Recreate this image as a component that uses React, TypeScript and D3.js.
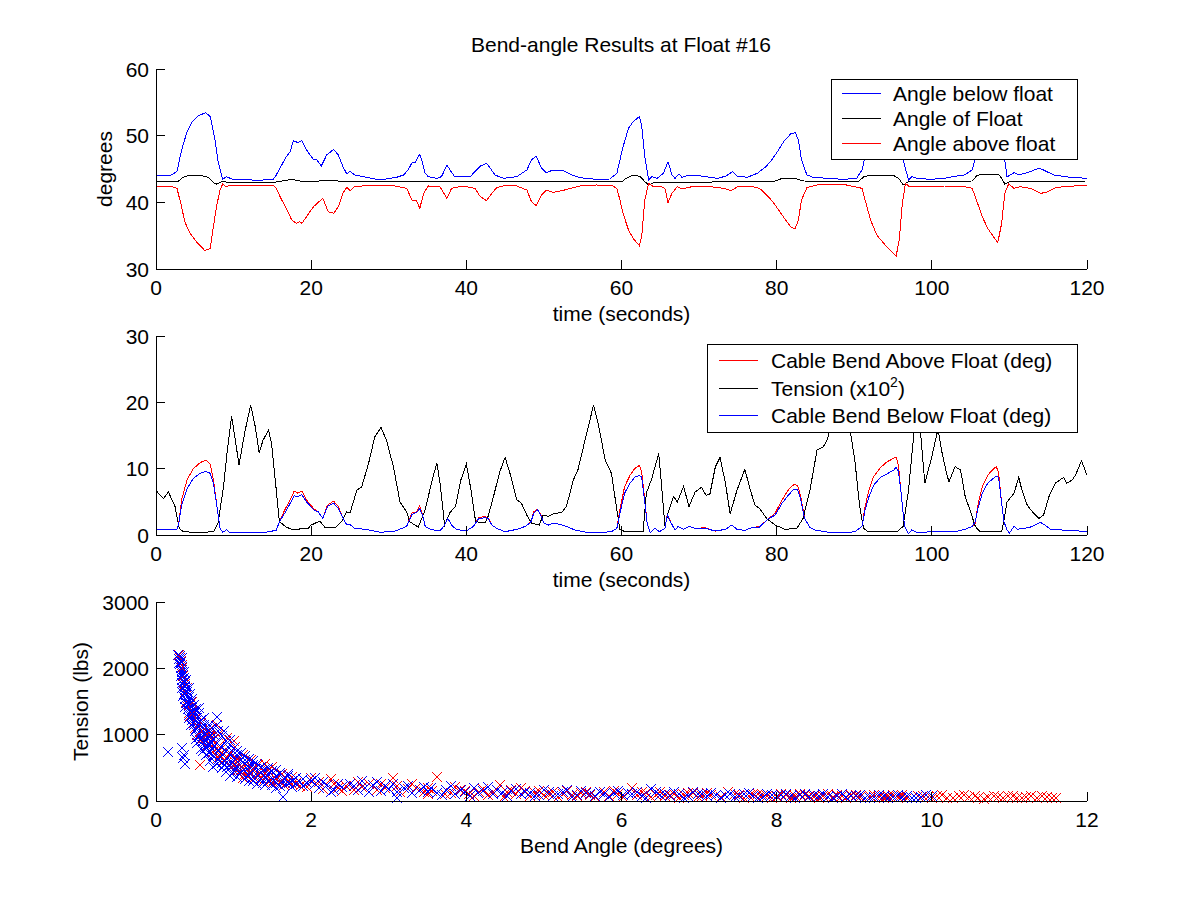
import * as d3 from "d3";

type Pt = [number, number];

// ---- top panel: angles (degrees) vs time (s)
const angleBelow: Pt[] = [
  [0, 44.1], [1.8, 44.0], [2.7, 44.6], [3.3, 47.85], [4.0, 50.6], [4.6, 51.95], [5.4, 52.95], [6.4, 53.45],
  [7.0, 52.85], [7.6, 49.35], [8.0, 46.1], [8.6, 43.45], [9.1, 43.85], [9.75, 43.5], [12.1, 43.5], [12.5, 43.25],
  [15.1, 43.45], [15.5, 44.1], [16.2, 45.6], [16.8, 46.85], [17.3, 47.6], [17.7, 49.25], [18.3, 48.95], [18.8, 49.25],
  [19.4, 47.85], [20.3, 46.45], [20.7, 46.4], [21.3, 45.45], [22.0, 47.1], [22.9, 47.95], [23.5, 47.1], [24.1, 45.35],
  [24.6, 44.25], [25.0, 44.7], [25.6, 44.1], [27.2, 43.75], [28.9, 43.35], [31.0, 43.75], [31.9, 44.1], [32.5, 44.85],
  [33.0, 45.95], [33.4, 46.0], [34.0, 47.2], [34.3, 46.1], [34.7, 44.35], [35.1, 43.85], [36.2, 43.6], [36.8, 43.85],
  [37.5, 45.6], [37.9, 44.85], [38.5, 43.85], [40.5, 43.85], [41.1, 44.6], [41.8, 45.45], [42.6, 45.85], [43.1, 45.1],
  [43.7, 44.1], [44.8, 43.6], [46.5, 43.85], [47.8, 44.85], [48.4, 46.35], [49.0, 46.95], [49.7, 45.1], [50.3, 44.45],
  [51.2, 44.85], [52.5, 44.75], [53.6, 44.1], [54.6, 43.7], [56.8, 43.45], [58.5, 43.5], [59.4, 44.35], [59.8, 46.35],
  [60.2, 48.35], [60.9, 51.1], [61.5, 52.1], [62.3, 52.85], [62.6, 51.6], [63.0, 46.85], [63.5, 43.35], [63.9, 43.85],
  [64.6, 43.6], [65.4, 44.35], [66.0, 46.1], [66.5, 44.1], [66.9, 43.6], [67.4, 44.25], [67.8, 43.75], [68.7, 44.1],
  [70.2, 43.95], [71.5, 43.75], [72.4, 43.6], [73.5, 43.95], [74.3, 44.6], [74.9, 43.95], [76.2, 43.75], [77.5, 44.35],
  [78.6, 45.35], [79.2, 46.1], [80.1, 47.6], [80.9, 49.1], [81.8, 50.25], [82.4, 50.45], [82.8, 49.35], [83.2, 46.35],
  [83.9, 44.1], [84.7, 43.75], [86.5, 43.6], [88.6, 43.45], [90.3, 43.6], [91.0, 44.85], [91.3, 46.35], [91.7, 48.35],
  [92.5, 51.6], [93.4, 52.8], [94.2, 53.3], [95.1, 53.9], [95.5, 54.2], [95.8, 53.2], [96.3, 46.35], [97.0, 43.35],
  [97.4, 43.85], [98.1, 43.6], [99.8, 43.45], [101.6, 43.6], [102.7, 43.85], [104.2, 44.1], [105.2, 44.85], [105.6, 46.5],
  [105.9, 48.05], [106.5, 50.55], [107.2, 52.05], [107.8, 52.65], [108.3, 53.15], [108.6, 52.9], [109.0, 48.5],
  [109.4, 46.3], [109.7, 43.8], [110.1, 44.1], [110.6, 44.45], [111.2, 44.1], [112.3, 44.45], [113.8, 45.1],
  [114.4, 44.85], [115.7, 44.1], [117.9, 43.75], [120, 43.6],
];

const angleFloat: Pt[] = [
  [0, 43.2], [2.9, 43.2], [3.5, 43.75], [4.4, 44.1], [5.9, 44.0], [6.75, 43.75], [7.4, 42.95], [7.8, 42.75],
  [8.5, 43.1], [9.5, 43.0], [15, 42.95], [17.5, 43.45], [18.5, 43.2], [20, 43.1], [22.6, 43.35], [24, 43.1],
  [60, 43.05], [60.6, 43.6], [61.5, 44.1], [62.4, 43.9], [63.0, 43.1], [63.5, 42.6], [64.2, 43.0], [79.5, 43.1],
  [80.5, 43.5], [82.3, 43.6], [83.5, 43.2], [90.5, 43.1], [91.3, 43.9], [92.5, 44.1], [95, 44.1], [95.8, 43.5],
  [96.3, 42.6], [97, 43.1], [105.2, 43.2], [105.8, 44.0], [106.5, 44.25], [108.6, 44.25], [109.1, 43.4],
  [109.4, 42.75], [110, 43.1], [120, 43.2],
];

const angleAbove: Pt[] = [
  [0, 42.35], [1.8, 42.45], [2.7, 42.1], [3.3, 39.35], [3.7, 37.1], [4.4, 35.35], [5.2, 34.1], [6.3, 32.75],
  [7.0, 33.1], [7.4, 36.35], [7.8, 39.35], [8.25, 41.85], [8.6, 42.75], [9.0, 42.3], [9.5, 42.6], [15.1, 42.6],
  [15.5, 42.1], [16.2, 40.35], [16.8, 39.1], [17.5, 37.35], [18.1, 36.85], [18.5, 37.1], [18.8, 36.85], [19.4, 37.85],
  [20.3, 39.35], [21.5, 40.6], [22.2, 38.6], [22.9, 38.35], [23.5, 39.35], [24.1, 41.35], [24.6, 42.3], [25.0, 41.75],
  [25.6, 42.35], [27.1, 42.5], [30.2, 42.6], [32.3, 42.1], [33.0, 40.35], [33.6, 40.2], [34.0, 39.1], [34.5, 41.35],
  [35.1, 42.45], [36.6, 42.35], [37.5, 40.6], [38.1, 42.1], [39.6, 42.45], [41.1, 42.1], [41.8, 40.85], [42.6, 40.25],
  [43.3, 41.35], [43.9, 42.2], [45.2, 42.6], [46.5, 42.45], [47.8, 41.85], [48.4, 40.1], [49.0, 39.5], [49.7, 41.1],
  [50.3, 41.85], [51.2, 41.5], [52.5, 41.8], [54.6, 42.45], [56.8, 42.6], [58.9, 42.45], [59.4, 42.1], [59.8, 40.35],
  [60.2, 38.35], [60.9, 35.85], [61.5, 34.6], [62.3, 33.5], [62.6, 34.85], [63.0, 40.35], [63.5, 42.85], [64.1, 42.35],
  [65.0, 42.45], [65.6, 42.1], [66.0, 39.95], [66.5, 41.35], [67.2, 42.35], [67.8, 42.0], [68.9, 42.3], [71.5, 42.35],
  [73.2, 42.1], [74.1, 41.75], [74.9, 42.3], [76.6, 42.45], [77.8, 42.1], [78.7, 41.1], [79.5, 40.1], [80.4, 38.6],
  [81.3, 37.1], [81.9, 36.2], [82.4, 36.1], [82.8, 37.35], [83.2, 40.35], [83.9, 42.2], [85.2, 42.6], [88.6, 42.7],
  [91.0, 42.1], [91.4, 40.35], [92.1, 37.35], [92.9, 35.1], [93.8, 33.85], [94.6, 32.85], [95.4, 31.95], [95.8, 34.35],
  [96.2, 39.85], [96.6, 42.85], [97.1, 42.35], [98.4, 42.45], [101.6, 42.45], [104.2, 42.35], [105.2, 42.1],
  [105.9, 39.85], [106.5, 37.85], [107.2, 36.1], [107.8, 35.1], [108.5, 33.95], [109.0, 36.85], [109.4, 41.35],
  [109.9, 42.75], [110.6, 42.1], [111.4, 42.35], [112.7, 42.1], [114.0, 41.35], [114.8, 41.5], [116.1, 42.25],
  [120, 42.6],
];

// ---- middle panel: tension (x100 lbs) and cable bends (deg) vs time (s)
const tension: Pt[] = [
  [0, 6.7], [0.95, 5.5], [1.6, 6.5], [2.45, 4.3], [3.0, 1.0], [3.5, 0.5], [5, 0.4], [6.5, 0.4], [7.5, 0.6], [8.0, 1.8],
  [8.7, 7.3], [9.2, 12.8], [9.75, 17.9], [10.7, 10.6], [11.5, 15.8], [12.2, 19.6], [12.8, 16.3], [13.3, 12.4],
  [13.8, 14.3], [14.5, 15.8], [14.9, 13.8], [15.5, 6.8], [15.9, 2.0], [16.8, 1.2], [17.7, 0.75], [19, 1.0], [19.6, 1.0],
  [20, 1.5], [21.1, 2.1], [21.8, 1.1], [23.1, 1.1], [23.9, 2.0], [24.6, 3.5], [25, 3.3], [25.9, 6.8], [26.5, 7.2],
  [27.4, 10.8], [28.2, 14.8], [29, 16.2], [29.7, 14.3], [30.6, 10.3], [31.45, 5.0], [32.3, 3.5], [32.7, 2.0],
  [33.8, 1.2], [34.7, 3.8], [35.5, 7.8], [36.2, 10.9], [36.6, 7.9], [37.2, 1.5], [37.9, 3.4], [38.6, 4.3], [39.3, 8.3],
  [40, 10.7], [40.6, 6.8], [41.2, 2.0], [42.4, 1.8], [42.8, 2.8], [43.5, 5.8], [44.3, 9.5], [45, 11.7], [45.75, 8.8],
  [46.5, 5.3], [47.1, 4.8], [47.8, 3.0], [48.4, 1.8], [49.4, 1.5], [49.9, 3.0], [50.6, 2.8], [51.2, 3.2], [52.3, 3.4],
  [52.9, 4.3], [53.8, 8.3], [54.4, 9.9], [55.3, 14.3], [56.4, 19.6], [57, 16.8], [57.9, 11.3], [58.7, 9.3], [59.4, 3.8],
  [59.8, 0.8], [60.5, 0.5], [62.8, 0.6], [63.2, 6.3], [63.9, 8.5], [64.8, 12.3], [65.2, 7.0], [65.6, 1.3], [66.0, 3.3],
  [66.7, 5.8], [67.2, 5.0], [68.0, 7.3], [68.7, 4.3], [69.5, 6.5], [70.3, 7.2], [70.9, 6.0], [71.4, 6.2], [72.1, 10.3],
  [72.7, 11.7], [73.4, 7.8], [74, 3.2], [74.9, 6.8], [75.9, 9.9], [76.6, 6.8], [77.2, 4.5], [77.8, 4.0], [78.7, 2.5],
  [79.8, 1.5], [81.1, 0.85], [82.6, 1.0], [83.4, 2.5], [84.3, 6.8], [85.2, 12.8], [86.0, 13.3], [86.5, 14.3],
  [86.9, 16.1], [87.6, 20.5], [88.3, 22.0], [89.0, 19.5], [89.5, 15.6], [90.1, 11.0], [90.7, 4.3], [91.2, 1.0],
  [91.8, 0.5], [95.5, 0.5], [96.3, 1.3], [97.0, 6.8], [97.4, 11.8], [97.8, 16.5], [98.1, 19.0], [98.5, 16.0],
  [99.1, 7.8], [100, 11.8], [100.8, 16.0], [101.3, 12.5], [101.8, 9.8], [102.2, 8.0], [103, 10.3], [103.7, 9.8],
  [104.3, 5.8], [104.9, 3.8], [105.6, 1.3], [106.2, 0.5], [109, 0.5], [109.3, 2.3], [109.7, 5.0], [110.6, 6.3],
  [111.2, 8.7], [111.6, 6.8], [112.3, 4.5], [113.1, 3.3], [113.8, 2.5], [114.4, 3.0], [115.1, 5.8], [115.9, 7.8],
  [117, 8.7], [117.4, 7.8], [118.1, 8.3], [118.5, 9.0], [119.3, 11.2], [120, 9.0],
];

const bendAbove: Pt[] = [
  [0, 0.85], [2.7, 0.9], [2.9, 1.5], [3.3, 5.3], [4.0, 8.3], [4.8, 10.0], [5.7, 10.9], [6.4, 11.3], [7.0, 10.7],
  [7.4, 8.3], [7.8, 4.8], [8.25, 1.0], [8.6, 0.4], [9.1, 0.8], [9.5, 0.4], [10.5, 0.35], [12.2, 0.3], [14, 0.4],
  [15.5, 0.7], [15.9, 2.0], [16.6, 3.8], [17.3, 5.3], [17.8, 6.6], [18.3, 6.3], [18.8, 6.6], [19.4, 5.3], [20.3, 4.0],
  [20.9, 3.5], [21.5, 2.5], [22.1, 4.5], [22.9, 5.1], [23.5, 4.3], [24.0, 2.8], [24.6, 1.5], [25.0, 1.6], [25.6, 1.0],
  [27.1, 0.85], [28.9, 0.4], [30.8, 0.6], [31.7, 1.0], [32.3, 1.3], [33.0, 3.3], [33.6, 3.5], [34.0, 4.4], [34.4, 2.8],
  [34.7, 1.3], [35.4, 0.85], [36.6, 0.6], [37.2, 1.5], [37.6, 2.5], [38.1, 1.5], [38.7, 0.85], [40.0, 0.6], [40.9, 1.3],
  [41.6, 2.6], [42.4, 2.8], [42.8, 2.6], [43.3, 1.5], [43.9, 1.0], [45.0, 0.5], [46.5, 0.85], [47.6, 1.3], [48.3, 2.0],
  [48.7, 3.5], [49.2, 3.9], [49.6, 3.0], [50.0, 1.8], [50.6, 1.5], [51.2, 1.8], [52.1, 1.6], [52.9, 1.3], [54.0, 0.75],
  [55.3, 0.45], [56.4, 0.3], [58.7, 0.5], [59.4, 1.0], [59.8, 3.8], [60.4, 7.3], [61.1, 9.0], [61.7, 10.0], [62.3, 10.5],
  [62.6, 9.5], [63.0, 5.3], [63.3, 1.8], [63.7, 0.3], [64.3, 1.0], [64.9, 0.5], [65.6, 1.0], [65.9, 3.1], [66.4, 1.8],
  [66.9, 0.75], [67.3, 1.3], [68.0, 0.85], [68.7, 1.3], [69.5, 1.0], [70.8, 1.1], [72.1, 0.6], [73.4, 0.85],
  [74.2, 1.5], [74.9, 0.85], [75.9, 0.7], [76.8, 1.1], [77.8, 1.3], [78.5, 2.0], [79.0, 2.5], [79.8, 3.3], [80.7, 5.3],
  [81.5, 6.8], [82.2, 7.6], [82.7, 7.5], [83.1, 5.8], [83.6, 2.5], [84.3, 1.1], [84.9, 0.75], [86.5, 0.45], [88.3, 0.3],
  [90.1, 0.5], [91.0, 1.3], [91.4, 4.3], [91.9, 6.8], [92.5, 8.8], [93.4, 10.2], [94.2, 11.0], [95.1, 11.6],
  [95.4, 11.7], [95.7, 10.5], [96.0, 6.8], [96.3, 3.3], [96.5, 1.3], [97.0, 0.2], [97.4, 0.75], [98.1, 0.35],
  [100.0, 0.5], [101.3, 0.6], [103.0, 0.5], [104.3, 0.85], [105.2, 1.3], [105.6, 1.8], [105.9, 4.3], [106.5, 7.3],
  [107.2, 9.0], [107.8, 9.8], [108.3, 10.3], [108.6, 9.5], [109.0, 4.8], [109.3, 2.0], [109.7, 0.75], [110.0, 0.3],
  [110.6, 1.3], [111.0, 0.85], [111.7, 1.0], [112.5, 1.1], [113.3, 1.5], [114.0, 1.9], [114.6, 1.5], [115.3, 0.85],
  [116.8, 0.75], [119.0, 0.6], [120.0, 0.6],
];

const bendBelow: Pt[] = [
  [0, 0.85], [2.7, 0.9], [2.9, 1.5], [3.3, 4.5], [4.0, 7.0], [4.8, 8.5], [5.7, 9.3], [6.4, 9.6], [7.0, 9.3],
  [7.4, 7.8], [7.8, 4.8], [8.25, 1.0], [8.6, 0.4], [9.1, 0.8], [9.5, 0.4], [10.5, 0.35], [12.2, 0.3], [14, 0.4],
  [15.5, 0.7], [15.9, 2.0], [16.6, 3.3], [17.3, 4.8], [17.8, 5.9], [18.3, 5.8], [18.8, 6.1], [19.4, 5.0], [20.3, 3.8],
  [20.9, 3.5], [21.5, 2.5], [22.1, 4.3], [22.9, 4.8], [23.5, 4.0], [24.0, 2.8], [24.6, 1.5], [25.0, 1.6], [25.6, 1.0],
  [27.1, 0.85], [28.9, 0.4], [30.8, 0.6], [31.7, 1.0], [32.3, 1.3], [33.0, 3.1], [33.6, 3.4], [34.0, 4.0], [34.4, 2.8],
  [34.7, 1.3], [35.4, 0.85], [36.6, 0.6], [37.2, 1.5], [37.6, 2.5], [38.1, 1.5], [38.7, 0.85], [40.0, 0.6], [40.9, 1.3],
  [41.6, 2.5], [42.4, 2.6], [42.8, 2.5], [43.3, 1.5], [43.9, 1.0], [45.0, 0.5], [46.5, 0.85], [47.6, 1.3], [48.3, 1.9],
  [48.7, 3.3], [49.2, 3.8], [49.6, 3.0], [50.0, 1.8], [50.6, 1.5], [51.2, 1.8], [52.1, 1.6], [52.9, 1.3], [54.0, 0.75],
  [55.3, 0.45], [56.4, 0.3], [58.7, 0.5], [59.4, 1.0], [59.8, 3.3], [60.4, 6.3], [61.1, 7.8], [61.7, 8.7], [62.3, 9.0],
  [62.6, 8.7], [63.0, 5.0], [63.3, 1.8], [63.7, 0.3], [64.3, 1.0], [64.9, 0.5], [65.6, 1.0], [65.9, 3.0], [66.4, 1.8],
  [66.9, 0.75], [67.3, 1.3], [68.0, 0.85], [68.7, 1.3], [69.5, 1.0], [70.8, 1.0], [72.1, 0.6], [73.4, 0.85],
  [74.2, 1.5], [74.9, 0.85], [75.9, 0.7], [76.8, 1.1], [77.8, 1.2], [78.5, 2.0], [79.0, 2.5], [79.8, 3.0], [80.7, 4.8],
  [81.5, 6.0], [82.2, 6.9], [82.7, 6.9], [83.1, 5.3], [83.6, 2.5], [84.3, 1.1], [84.9, 0.75], [86.5, 0.45], [88.3, 0.3],
  [90.1, 0.5], [91.0, 1.3], [91.4, 3.8], [91.9, 5.8], [92.5, 7.5], [93.4, 8.7], [94.2, 9.2], [95.1, 9.8],
  [95.4, 10.2], [95.7, 9.6], [96.0, 6.8], [96.3, 3.3], [96.5, 1.3], [97.0, 0.2], [97.4, 0.75], [98.1, 0.35],
  [100.0, 0.5], [101.3, 0.6], [103.0, 0.5], [104.3, 0.85], [105.2, 1.3], [105.6, 2.0], [105.9, 3.8], [106.5, 6.3],
  [107.2, 7.8], [107.8, 8.4], [108.3, 8.9], [108.6, 8.7], [109.0, 4.8], [109.3, 2.0], [109.7, 0.75], [110.0, 0.3],
  [110.6, 1.3], [111.0, 0.85], [111.7, 1.0], [112.5, 1.1], [113.3, 1.5], [114.0, 1.9], [114.6, 1.5], [115.3, 0.85],
  [116.8, 0.75], [119.0, 0.6], [120.0, 0.6],
];

// ---- bottom panel: [bend angle deg, tension lbs]
const scatterAbove: Pt[] = [
  // dense knee
  [0.30, 2200], [0.31, 2160], [0.32, 2110], [0.33, 2000], [0.34, 2050], [0.35, 1880], [0.36, 1800], [0.38, 1760],
  [0.37, 1650], [0.40, 1700], [0.41, 1560], [0.39, 1500], [0.46, 1500], [0.44, 1450], [0.47, 1350], [0.42, 1330],
  [0.44, 1280], [0.53, 1300], [0.51, 1250], [0.49, 1180], [0.58, 1180], [0.55, 1150], [0.50, 1100], [0.63, 1080],
  [0.59, 1050], [0.53, 1000], [0.64, 980], [0.70, 960], [0.60, 950], [0.57, 920], [0.70, 900], [0.68, 880],
  [0.76, 870], [0.62, 880], [0.66, 830], [0.78, 800], [0.85, 800], [0.72, 780], [0.73, 740], [0.84, 720],
  [0.95, 720], [0.82, 700], [0.80, 650], [0.92, 660], [1.05, 640], [0.88, 620], [0.90, 580], [1.00, 600],
  [1.15, 560], [1.00, 540], [0.97, 520], [1.08, 540], [1.25, 480], [1.10, 460], [1.06, 470], [1.18, 480],
  [1.15, 410], [1.22, 400], [1.40, 420], [1.30, 420], [1.27, 360], [1.35, 340], [1.49, 517], [1.40, 350],
  [1.55, 370], [1.38, 300], [1.48, 310], [1.55, 330], [1.65, 330], [1.50, 270], [1.60, 280], [1.70, 300],
  [1.65, 240], [1.75, 250], [1.85, 230], [0.57, 543], [0.78, 1150], [1.12, 350], [1.80, 270],
  [0.80, 1000], [0.92, 950], [1.02, 820], [1.12, 700], [1.22, 620], [1.32, 540], [1.45, 470], [1.62, 400],
  [1.75, 360], [0.70, 1080], [1.00, 900], [1.40, 560],
  // middle band
  [1.85, 280], [1.95, 210], [2.00, 340], [2.05, 250], [2.10, 290], [2.15, 180], [2.25, 330], [2.30, 260],
  [2.35, 200], [2.40, 150], [2.45, 230], [2.55, 170], [2.60, 280], [2.65, 210], [2.75, 250], [2.85, 160],
  [2.90, 260], [2.95, 190], [3.05, 351], [3.10, 230], [3.15, 140], [3.25, 180], [3.30, 250], [3.35, 200],
  [3.45, 130], [3.50, 110],
  // tail
  [3.50, 190], [3.56, 150], [3.62, 366], [3.72, 100], [3.80, 125], [3.86, 210], [3.92, 170], [3.98, 150],
  [4.04, 110], [4.10, 70], [4.16, 140], [4.22, 180], [4.28, 95], [4.34, 130], [4.43, 241], [4.48, 60], [4.52, 130],
  [4.58, 160], [4.64, 100], [4.70, 190], [4.76, 150], [4.82, 70], [4.88, 115], [4.94, 150], [5.00, 90],
  [5.06, 110], [5.12, 130], [5.18, 60], [5.24, 105], [5.30, 150], [5.36, 85], [5.42, 80], [5.48, 120], [5.54, 140],
  [5.60, 95], [5.66, 60], [5.72, 140], [5.78, 130], [5.84, 80], [5.90, 150], [5.96, 110], [6.02, 60], [6.13, 191],
  [6.20, 85], [6.26, 130], [6.32, 120], [6.38, 60], [6.44, 95], [6.50, 130], [6.56, 70], [6.62, 90], [6.68, 105],
  [6.74, 50], [6.80, 85], [6.86, 120], [6.92, 115], [6.98, 60], [7.04, 75], [7.10, 120], [7.16, 95], [7.22, 90],
  [7.28, 60], [7.37, 141], [7.46, 110], [7.52, 90], [7.58, 50], [7.64, 70], [7.70, 110], [7.76, 100], [7.82, 90],
  [7.88, 75], [7.94, 40], [8.00, 60], [8.06, 100], [8.12, 85], [8.18, 45], [8.24, 70], [8.30, 110], [8.36, 95],
  [8.42, 80], [8.48, 65], [8.54, 40], [8.60, 80], [8.66, 100], [8.72, 55], [8.78, 90], [8.84, 70], [8.90, 40],
  [8.96, 85], [9.02, 95], [9.08, 60], [9.14, 45], [9.20, 75], [9.26, 90], [9.32, 55], [9.38, 40], [9.44, 70],
  [9.50, 85], [9.56, 60], [9.62, 90], [9.68, 50], [9.74, 40], [9.82, 80], [9.88, 70], [9.95, 55], [10.00, 40],
  [10.07, 70], [10.13, 85], [10.20, 50], [10.27, 40], [10.35, 75], [10.42, 90], [10.48, 60], [10.55, 75],
  [10.60, 45], [10.67, 35], [10.72, 65], [10.80, 80], [10.85, 55], [10.92, 40], [10.98, 70], [11.04, 80],
  [11.10, 50], [11.16, 40], [11.22, 60], [11.28, 75], [11.35, 45], [11.42, 70], [11.48, 55], [11.55, 40],
  [11.60, 50],
];

const scatterBelow: Pt[] = [
  // dense knee
  [0.29, 2200], [0.31, 2190], [0.33, 2150], [0.30, 2140], [0.32, 2100], [0.30, 2080], [0.31, 2060], [0.32, 2010],
  [0.34, 1980], [0.36, 1950], [0.33, 1940], [0.35, 1900], [0.32, 1880], [0.36, 1850], [0.34, 1820], [0.39, 1820],
  [0.37, 1790], [0.33, 1780], [0.35, 1760], [0.38, 1740], [0.37, 1720], [0.34, 1700], [0.42, 1700], [0.37, 1680],
  [0.40, 1650], [0.36, 1620], [0.44, 1620], [0.39, 1600], [0.35, 1580], [0.42, 1570], [0.38, 1540], [0.46, 1540],
  [0.41, 1510], [0.45, 1490], [0.40, 1480], [0.39, 1470], [0.49, 1450], [0.43, 1440], [0.38, 1420], [0.47, 1410],
  [0.41, 1380], [0.52, 1380], [0.45, 1350], [0.50, 1330], [0.56, 1320], [0.43, 1300], [0.46, 1280], [0.48, 1270],
  [0.42, 1250], [0.53, 1250], [0.46, 1220], [0.58, 1220], [0.51, 1200], [0.56, 1180], [0.45, 1150], [0.49, 1150],
  [0.62, 1150], [0.54, 1130], [0.60, 1100], [0.52, 1080], [0.66, 1080], [0.57, 1050], [0.50, 1050], [0.63, 1030],
  [0.55, 1000], [0.70, 1000], [0.61, 980], [0.55, 960], [0.67, 950], [0.52, 940], [0.74, 940], [0.58, 930],
  [0.64, 910], [0.60, 900], [0.71, 890], [0.79, 880], [0.62, 870], [0.53, 870], [0.68, 850], [0.75, 830],
  [0.84, 820], [0.63, 820], [0.66, 800], [0.58, 790], [0.72, 780], [0.80, 760], [0.90, 760], [0.60, 760],
  [0.70, 740], [0.77, 720], [0.68, 720], [0.86, 700], [0.64, 700], [0.95, 700], [0.74, 680], [0.82, 660],
  [1.00, 650], [0.92, 640], [0.72, 640], [0.80, 620], [1.08, 620], [0.88, 600], [0.69, 600], [0.98, 585],
  [0.85, 570], [0.78, 560], [1.15, 560], [0.95, 550], [0.88, 540], [1.05, 530], [0.74, 520], [1.20, 520],
  [0.92, 510], [1.02, 490], [0.85, 490], [1.28, 480], [1.13, 470], [1.00, 455], [0.90, 440], [1.10, 440],
  [1.35, 440], [1.22, 420], [1.08, 405], [0.98, 400], [1.45, 400], [1.18, 390], [1.32, 380], [1.55, 370],
  [1.25, 360], [1.05, 360], [1.42, 345], [1.35, 330], [1.15, 330], [1.65, 330], [1.52, 315], [1.45, 300],
  [1.25, 300], [1.75, 300], [1.62, 290], [1.85, 290], [1.55, 275], [1.38, 270], [1.95, 270], [1.72, 265],
  [1.68, 250], [1.30, 250], [1.50, 240], [1.60, 220], [1.75, 210], [2.05, 260], [0.88, 540], [0.60, 760],
  [0.52, 940],
  [0.75, 1000], [0.85, 980], [0.80, 1050], [0.72, 1100], [0.90, 900], [0.95, 850], [1.00, 800], [1.05, 760],
  [1.10, 720], [1.15, 680], [1.20, 640], [1.25, 600], [1.30, 560], [1.35, 520], [1.40, 480], [1.50, 450],
  [1.60, 420], [1.70, 380], [1.80, 350], [0.95, 920], [1.05, 700], [1.15, 620], [1.25, 540], [1.45, 500],
  [1.55, 460], [1.70, 410], [0.68, 1150], [0.62, 1250], [0.55, 1400], [0.88, 1050],
  // outliers
  [0.16, 743], [0.34, 794], [0.36, 700], [0.35, 650], [0.37, 560], [0.78, 1271], [0.77, 1130], [0.93, 818],
  [1.64, 65], [3.10, 45], [1.20, 300], [1.90, 330], [1.40, 240], [0.95, 380], [1.55, 200],
  // middle band
  [1.80, 260], [1.90, 220], [2.00, 300], [2.05, 350], [2.10, 190], [2.15, 280], [2.20, 240], [2.25, 140],
  [2.30, 170], [2.35, 260], [2.40, 210], [2.50, 260], [2.55, 220], [2.60, 160], [2.65, 300], [2.70, 200],
  [2.75, 130], [2.80, 240], [2.85, 280], [2.90, 150], [2.95, 230], [3.00, 180], [3.05, 260], [3.10, 140],
  [3.20, 200], [3.25, 230], [3.30, 120], [3.40, 170], [3.45, 210],
  // tail
  [3.50, 140], [3.55, 200], [3.62, 120], [3.68, 90], [3.74, 160], [3.80, 230], [3.86, 110], [3.93, 170],
  [3.98, 135], [4.05, 80], [4.10, 190], [4.15, 120], [4.22, 150], [4.28, 210], [4.34, 100], [4.40, 170],
  [4.46, 125], [4.52, 80], [4.58, 145], [4.64, 180], [4.70, 105], [4.76, 140], [4.82, 120], [4.88, 70],
  [4.94, 90], [5.00, 160], [5.06, 135], [5.12, 80], [5.18, 110], [5.24, 140], [5.30, 166], [5.36, 60], [5.42, 95],
  [5.48, 150], [5.54, 120], [5.60, 110], [5.66, 80], [5.72, 140], [5.78, 105], [5.84, 60], [5.90, 125],
  [5.96, 150], [6.02, 90], [6.08, 120], [6.14, 110], [6.20, 140], [6.26, 70], [6.32, 50], [6.38, 180], [6.44, 130],
  [6.50, 95], [6.56, 110], [6.62, 75], [6.68, 130], [6.74, 100], [6.80, 50], [6.86, 80], [6.92, 130], [6.98, 110],
  [7.04, 100], [7.10, 70], [7.16, 120], [7.22, 95], [7.28, 40], [7.34, 85], [7.40, 110], [7.46, 60], [7.52, 70],
  [7.58, 100], [7.64, 120], [7.70, 80], [7.76, 50], [7.82, 65], [7.88, 110], [7.94, 90], [8.00, 80], [8.06, 95],
  [8.12, 110], [8.18, 70], [8.24, 40], [8.30, 90], [8.36, 110], [8.42, 60], [8.48, 90], [8.54, 80], [8.60, 100],
  [8.66, 55], [8.72, 40], [8.78, 75], [8.84, 100], [8.90, 60], [8.96, 80], [9.02, 70], [9.08, 90], [9.14, 50],
  [9.20, 40], [9.26, 65], [9.32, 90], [9.38, 75], [9.44, 40], [9.50, 55], [9.56, 85], [9.62, 65], [9.68, 75],
  [9.74, 50], [9.80, 40], [9.86, 60], [9.92, 85], [10.0, 75],
];

const timeTicks = [0, 20, 40, 60, 80, 100, 120];
const angleTicks = [30, 40, 50, 60];
const midTicks = [0, 10, 20, 30];
const tensionTicks = [0, 1000, 2000, 3000];
const bendTicks = [0, 2, 4, 6, 8, 10, 12];

const FONT = "'Liberation Sans', Arial, Helvetica, sans-serif";
const FS = 21;
const LEFT = 156;
const RIGHT = 1087;
const TICK = 9;

const xTime = d3.scaleLinear().domain([0, 120]).range([LEFT, RIGHT]);
const yAngle = d3.scaleLinear().domain([30, 60]).range([269, 69]);
const yMid = d3.scaleLinear().domain([0, 30]).range([535, 336]);
const xBend = d3.scaleLinear().domain([0, 12]).range([LEFT, RIGHT]);
const yTension = d3.scaleLinear().domain([0, 3000]).range([801, 602]);

type Scale = d3.ScaleLinear<number, number>;

function Frame({ x, y, xTicks, yTicks, xLabel, yLabel, yLabelX }: {
  x: Scale; y: Scale; xTicks: number[]; yTicks: number[]; xLabel: string; yLabel?: string; yLabelX?: number;
}) {
  const [bottom, top] = y.range();
  return (
    <g stroke="#000" fill="none" shapeRendering="crispEdges">
      <line x1={LEFT} x2={LEFT} y1={top} y2={bottom} />
      <line x1={LEFT} x2={RIGHT} y1={bottom} y2={bottom} />
      {xTicks.map((t) => (
        <line key={"xt" + t} x1={x(t)} x2={x(t)} y1={bottom} y2={bottom - TICK} />
      ))}
      {yTicks.map((t) => (
        <line key={"yt" + t} x1={LEFT} x2={LEFT + TICK} y1={y(t)} y2={y(t)} />
      ))}
      <g stroke="none" fill="#000" fontFamily={FONT} fontSize={FS}>
        {xTicks.map((t) => (
          <text key={"xl" + t} x={x(t)} y={bottom + 26} textAnchor="middle">{t}</text>
        ))}
        {yTicks.map((t) => (
          <text key={"yl" + t} x={LEFT - 7} y={y(t) + 7.5} textAnchor="end">{t}</text>
        ))}
        <text x={(LEFT + RIGHT) / 2} y={bottom + 52} textAnchor="middle">{xLabel}</text>
        {yLabel && (
          <text transform={`translate(${yLabelX},${(top + bottom) / 2}) rotate(-90)`} textAnchor="middle">{yLabel}</text>
        )}
      </g>
    </g>
  );
}

function Series({ data, x, y, color }: { data: Pt[]; x: Scale; y: Scale; color: string }) {
  const line = d3.line<Pt>().x((d) => x(d[0])).y((d) => y(d[1]));
  return <path d={line(data) ?? ""} fill="none" stroke={color} strokeWidth={1} shapeRendering="crispEdges" />;
}

function Crosses({ data, color }: { data: Pt[]; color: string }) {
  const r = 5;
  const d = data
    .map(([a, t]) => {
      const cx = Math.round(xBend(a));
      const cy = Math.round(yTension(t));
      return `M${cx - r},${cy - r}L${cx + r},${cy + r}M${cx - r},${cy + r}L${cx + r},${cy - r}`;
    })
    .join("");
  return <path d={d} fill="none" stroke={color} strokeWidth={1} shapeRendering="crispEdges" />;
}

function Legend({ x, y, w, h, rows, lineX, textX }: {
  x: number; y: number; w: number; h: number; lineX: [number, number]; textX: number;
  rows: { y: number; color: string; label: React.ReactNode }[];
}) {
  return (
    <g>
      <rect x={x} y={y} width={w} height={h} fill="#fff" stroke="#000" shapeRendering="crispEdges" />
      {rows.map((r, i) => (
        <g key={i}>
          <line x1={lineX[0]} x2={lineX[1]} y1={r.y} y2={r.y} stroke={r.color} shapeRendering="crispEdges" />
          <text x={textX} y={r.y + 7.5} fontFamily={FONT} fontSize={FS} fill="#000">{r.label}</text>
        </g>
      ))}
    </g>
  );
}

export default function App() {
  return (
    <svg width={1200} height={900} style={{ position: "absolute", left: 0, top: 0, background: "#fff" }}>
      <text x={621} y={52} textAnchor="middle" fontFamily={FONT} fontSize={FS}>Bend-angle Results at Float #16</text>

      {/* top: angles */}
      <Series data={angleBelow} x={xTime} y={yAngle} color="#0000ff" />
      <Series data={angleFloat} x={xTime} y={yAngle} color="#000000" />
      <Series data={angleAbove} x={xTime} y={yAngle} color="#ff0000" />
      <Frame x={xTime} y={yAngle} xTicks={timeTicks} yTicks={angleTicks} xLabel="time (seconds)" yLabel="degrees" yLabelX={112} />
      <Legend
        x={831} y={79} w={246} h={80} lineX={[842, 881]} textX={893}
        rows={[
          { y: 93, color: "#0000ff", label: "Angle below float" },
          { y: 118, color: "#000000", label: "Angle of Float" },
          { y: 143, color: "#ff0000", label: "Angle above float" },
        ]}
      />

      {/* middle: bends and tension */}
      <Series data={bendAbove} x={xTime} y={yMid} color="#ff0000" />
      <Series data={tension} x={xTime} y={yMid} color="#000000" />
      <Series data={bendBelow} x={xTime} y={yMid} color="#0000ff" />
      <Frame x={xTime} y={yMid} xTicks={timeTicks} yTicks={midTicks} xLabel="time (seconds)" />
      <Legend
        x={707} y={344} w={370} h={88} lineX={[719, 758]} textX={771}
        rows={[
          { y: 360, color: "#ff0000", label: "Cable Bend Above Float (deg)" },
          {
            y: 388, color: "#000000",
            label: (
              <>
                Tension (x10<tspan dy={-9} fontSize={14}>2</tspan><tspan dy={9}>)</tspan>
              </>
            ),
          },
          { y: 415, color: "#0000ff", label: "Cable Bend Below Float (deg)" },
        ]}
      />

      {/* bottom: tension vs bend */}
      <Crosses data={scatterAbove} color="#ff0000" />
      <Crosses data={scatterBelow} color="#0000ff" />
      <Frame x={xBend} y={yTension} xTicks={bendTicks} yTicks={tensionTicks} xLabel="Bend Angle (degrees)" yLabel="Tension (lbs)" yLabelX={88} />
    </svg>
  );
}
